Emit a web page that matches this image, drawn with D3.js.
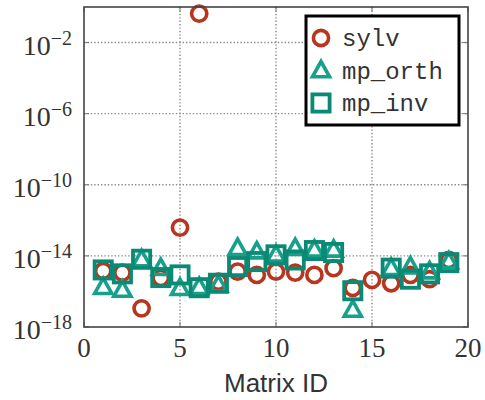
<!DOCTYPE html>
<html>
<head>
<meta charset="utf-8">
<script src="https://cdn.jsdelivr.net/npm/d3@7"></script>
<style>
  body { margin: 0; background: #fff; }
  .tick-lab { font-family: "Liberation Serif", serif; fill: #333; }
  .leg-lab { font-family: "Liberation Mono", monospace; font-size: 24px; fill: #333; }
</style>
</head>
<body>
<script>
// matrix ids and log10 of the error for each method (null = not plotted)
var matrixIds = [1, 2, 3, 4, 5, 6, 7, 8, 9, 10, 11, 12, 13, 14, 15, 16, 17, 18, 19];
var sylvLog   = [-14.85, -14.94, -16.95, -15.24, -12.41, -0.37, -15.45, -14.88, -15.07, -14.88,
                 -14.94, -15.07, -14.69, -15.80, -15.35, -15.54, -15.07, -15.31, -14.23];
var orthLog   = [-15.76, -15.92, -14.20, -14.69, -15.82, -15.76, -15.63, -13.57, -13.76, -13.94,
                 -13.57, -13.66, -13.66, -17.04, null, -14.69, -14.60, -14.88, -14.32];
var invLog    = [-14.79, -15.01, -14.19, -15.22, -15.07, -15.79, -15.54, -14.60, -14.32, -13.94,
                 -14.23, -13.70, -13.81, -15.96, null, -14.69, -15.31, -15.01, -14.38];
var xTicks = [0, 5, 10, 15, 20];
var yTickExps = [-18, -14, -10, -6, -2];
var seriesNames = ["sylv", "mp_orth", "mp_inv"];

var W = 485, H = 400;
var pL = 84, pR = 468, pT = 7, pB = 327;
var red = "#b8351f", teal = "#17a08c", green = "#0a8a74";

var svg = d3.select("body").append("svg")
  .attr("width", W)
  .attr("height", H);

var x = d3.scaleLinear().domain([0, 20]).range([pL, pR]);
var y = d3.scaleLog().domain([1e-18, 1]).range([pB, pT]);

//
// grid
//
var grid = svg.append("g")
  .attr("stroke", "#8c8c8c").attr("stroke-width", 1.4)
  .attr("stroke-dasharray", "1.4,2");
xTicks.slice(1, -1).forEach(function(t) {
  grid.append("line")
    .attr("x1", x(t)).attr("x2", x(t))
    .attr("y1", pT).attr("y2", pB);
});
yTickExps.slice(1).forEach(function(e) {
  grid.append("line")
    .attr("x1", pL).attr("x2", pR)
    .attr("y1", y(Math.pow(10, e))).attr("y2", y(Math.pow(10, e)));
});

// inner ticks, all four sides
var ticks = svg.append("g").attr("stroke", "#777").attr("stroke-width", 1);
xTicks.forEach(function(t) {
  ticks.append("line").attr("x1", x(t)).attr("x2", x(t)).attr("y1", pB).attr("y2", pB - 5);
  ticks.append("line").attr("x1", x(t)).attr("x2", x(t)).attr("y1", pT).attr("y2", pT + 5);
});
yTickExps.forEach(function(e) {
  var yy = y(Math.pow(10, e));
  ticks.append("line").attr("x1", pL).attr("x2", pL + 5).attr("y1", yy).attr("y2", yy);
  ticks.append("line").attr("x1", pR).attr("x2", pR - 5).attr("y1", yy).attr("y2", yy);
});

//
// tick labels
//
xTicks.forEach(function(t) {
  svg.append("text")
    .attr("class", "tick-lab")
    .attr("x", x(t))
    .attr("y", pB + 30)
    .attr("text-anchor", "middle")
    .attr("font-size", 27)
    .text(t);
});
yTickExps.forEach(function(e) {
  var yy = y(Math.pow(10, e));
  var t = svg.append("text")
    .attr("class", "tick-lab")
    .attr("x", 72)
    .attr("y", yy + 12)
    .attr("text-anchor", "end")
    .attr("font-size", 28);
  t.append("tspan").text("10");
  t.append("tspan").attr("dy", -10).attr("font-size", 20).text("\u2212" + (-e));
});

svg.append("text")
  .attr("x", x(10))
  .attr("y", 392)
  .attr("text-anchor", "middle")
  .attr("font-family", "'Liberation Sans', sans-serif")
  .attr("font-size", 26)
  .attr("fill", "#333")
  .text("Matrix ID");

//
// markers
//
var circle = function(g, cx, cy, color) {
  g.append("circle")
    .attr("cx", cx).attr("cy", cy).attr("r", 7.6)
    .attr("fill", "none").attr("stroke", color).attr("stroke-width", 3.6);
};
var triangle = function(g, cx, cy, color) {
  var s = 9;
  g.append("path")
    .attr("d", "M" + cx + "," + (cy - s) + "L" + (cx + s * 0.95) + "," + (cy + s * 0.7) +
               "L" + (cx - s * 0.95) + "," + (cy + s * 0.7) + "Z")
    .attr("fill", "none").attr("stroke", color).attr("stroke-width", 3.6)
    .attr("stroke-linejoin", "miter");
};
var square = function(g, cx, cy, color) {
  var s = 8.6;
  g.append("rect")
    .attr("x", cx - s).attr("y", cy - s).attr("width", 2 * s).attr("height", 2 * s)
    .attr("fill", "none").attr("stroke", color).attr("stroke-width", 3.8);
};

var marks = svg.append("g");
var series = [
  { vals: sylvLog, draw: circle, color: red },
  { vals: orthLog, draw: triangle, color: teal },
  { vals: invLog, draw: square, color: green }
];
series.forEach(function(s) {
  matrixIds.forEach(function(id, i) {
    if (s.vals[i] === null) return;
    s.draw(marks, x(id), y(Math.pow(10, s.vals[i])), s.color);
  });
});

// frame
svg.append("rect")
  .attr("x", pL).attr("y", pT)
  .attr("width", pR - pL).attr("height", pB - pT)
  .attr("fill", "none").attr("stroke", "#444").attr("stroke-width", 1.6);

//
// legend
//
var leg = svg.append("g");
leg.append("rect")
  .attr("x", 306).attr("y", 16)
  .attr("width", 153).attr("height", 109)
  .attr("fill", "#fff").attr("stroke", "#000").attr("stroke-width", 3);
seriesNames.forEach(function(name, i) {
  var cy = 38 + i * 32.5;
  series[i].draw(leg, 321, cy, series[i].color);
  leg.append("text")
    .attr("class", "leg-lab")
    .attr("x", 342)
    .attr("y", cy + 8)
    .text(name);
});
</script>
</body>
</html>
